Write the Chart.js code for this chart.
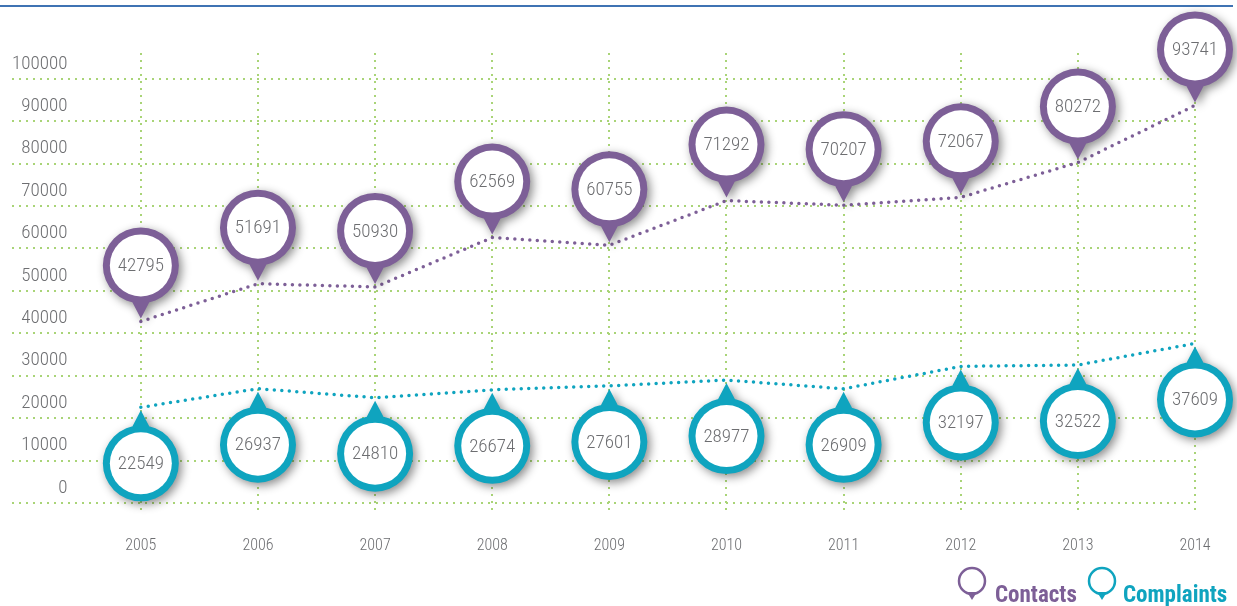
<!DOCTYPE html>
<html>
<head>
<meta charset="utf-8">
<script src="https://cdn.jsdelivr.net/npm/chart.js@4.4.1/dist/chart.umd.min.js"></script>
<style>
  html, body { margin: 0; padding: 0; background: #fff; }
  #wrap { position: relative; width: 1237px; height: 606px; overflow: hidden; }
  #topline { position: absolute; left: 0; top: 5px; width: 1233px; height: 2px; background: #3f73b3; }
  canvas { position: absolute; left: 0; top: 0; }
  .leg-icon { position: absolute; top: 566px; }
  .leg-text { position: absolute; top: 583px; font: bold 23px "Roboto Condensed", "Open Sans", sans-serif; line-height: 1; }
</style>
</head>
<body>
<div id="wrap">
  <div id="topline"></div>
  <canvas id="grafico" width="1237" height="606"></canvas>
  <svg class="leg-icon" style="left:957px" width="32" height="38">
    <circle cx="15" cy="15" r="13" fill="none" stroke="#7d5f97" stroke-width="2.5"/>
    <path d="M10 26 L20 26 L15 34 Z" fill="#7d5f97"/>
  </svg>
  <span class="leg-text" style="left:995px;color:#7d5f97">Contacts</span>
  <svg class="leg-icon" style="left:1087px" width="32" height="38">
    <circle cx="15" cy="15" r="13" fill="none" stroke="#0fa4bf" stroke-width="2.5"/>
    <path d="M10 26 L20 26 L15 34 Z" fill="#0fa4bf"/>
  </svg>
  <span class="leg-text" style="left:1123px;color:#0fa4bf">Complaints</span>
</div>
<script>
const years = [2005, 2006, 2007, 2008, 2009, 2010, 2011, 2012, 2013, 2014];
const contacts = [42795, 51691, 50930, 62569, 60755, 71292, 70207, 72067, 80272, 93741];
const complaints = [22549, 26937, 24810, 26674, 27601, 28977, 26909, 32197, 32522, 37609];
const yTicks = [0, 10000, 20000, 30000, 40000, 50000, 60000, 70000, 80000, 90000, 100000];

const PURPLE = '#7d5f97';
const TEAL = '#0fa4bf';
const GREY = '#6d6e71';
const GRID = '#a9d477';
const FONT = '"Roboto Condensed", "Open Sans", sans-serif';

// pin-shaped value bubbles above (contacts) or below (complaints) each point
const pinPlugin = {
    id: 'pins',
    afterDatasetsDraw: function(chart) {
        const ctx = chart.ctx;
        chart.data.datasets.forEach((ds, i) => {
            const meta = chart.getDatasetMeta(i);
            const dir = ds.pinSide === 'up' ? 1 : -1;
            meta.data.forEach((pt, j) => {
                const cx = pt.x;
                const cy = pt.y - dir * 56;

                ctx.save();
                ctx.shadowColor = 'rgba(0,0,0,0.45)';
                ctx.shadowBlur = 10;
                ctx.shadowOffsetX = 3;
                ctx.shadowOffsetY = 3;
                ctx.fillStyle = ds.borderColor;
                ctx.beginPath();
                ctx.arc(cx, cy, 38, 0, Math.PI * 2);
                // same winding as the circle so the overlap stays filled
                ctx.moveTo(cx - dir * 12, cy + dir * 30);
                ctx.lineTo(cx + dir * 12, cy + dir * 30);
                ctx.lineTo(cx, pt.y - dir * 3);
                ctx.closePath();
                ctx.fill();
                ctx.restore();

                ctx.save();
                ctx.fillStyle = '#fff';
                ctx.beginPath();
                ctx.arc(cx, cy, 31, 0, Math.PI * 2);
                ctx.fill();
                ctx.fillStyle = GREY;
                ctx.font = '300 19px ' + FONT;
                ctx.textAlign = 'center';
                ctx.textBaseline = 'middle';
                ctx.fillText(String(ds.values[j]), cx, cy + 1);
                ctx.restore();
            });
        });
    }
};

new Chart(document.getElementById('grafico'), {
    type: 'line',
    data: {
        datasets: [{
            label: 'Contacts',
            data: years.map((y, i) => ({ x: y, y: contacts[i] })),
            values: contacts,
            pinSide: 'up',
            borderColor: PURPLE,
            borderWidth: 3.5,
            borderDash: [0, 7.5],
            borderCapStyle: 'round',
            pointRadius: 0,
            tension: 0,
            fill: false
        }, {
            label: 'Complaints',
            data: years.map((y, i) => ({ x: y, y: complaints[i] })),
            values: complaints,
            pinSide: 'down',
            borderColor: TEAL,
            borderWidth: 3.5,
            borderDash: [0, 7.5],
            borderCapStyle: 'round',
            pointRadius: 0,
            tension: 0,
            fill: false
        }]
    },
    options: {
        responsive: false,
        devicePixelRatio: 1,
        animation: false,
        layout: { padding: { left: 12, right: 42, top: 53, bottom: 28 } },
        plugins: { legend: { display: false }, tooltip: { enabled: false } },
        scales: {
            x: {
                type: 'linear',
                min: 2003.9,
                max: 2014,
                afterBuildTicks: s => { s.ticks = years.map(v => ({ value: v })); },
                border: { display: false, dash: [2, 5] },
                grid: { color: GRID, lineWidth: 2, drawTicks: false },
                ticks: {
                    padding: 22,
                    color: GREY,
                    font: { family: FONT, size: 16, weight: '300' },
                    maxRotation: 0,
                    autoSkip: false,
                    callback: v => String(v)
                }
            },
            y: {
                min: -2800,
                max: 106100,
                afterBuildTicks: s => { s.ticks = yTicks.map(v => ({ value: v })); },
                border: { display: false, dash: [2, 5] },
                grid: { color: GRID, lineWidth: 2, drawTicks: false },
                ticks: {
                    mirror: true,
                    crossAlign: 'far',
                    padding: 0,
                    labelOffset: -15,
                    color: GREY,
                    font: { family: FONT, size: 19, weight: '300' },
                    autoSkip: false,
                    callback: v => String(v)
                }
            }
        }
    },
    plugins: [pinPlugin]
});
</script>
</body>
</html>
